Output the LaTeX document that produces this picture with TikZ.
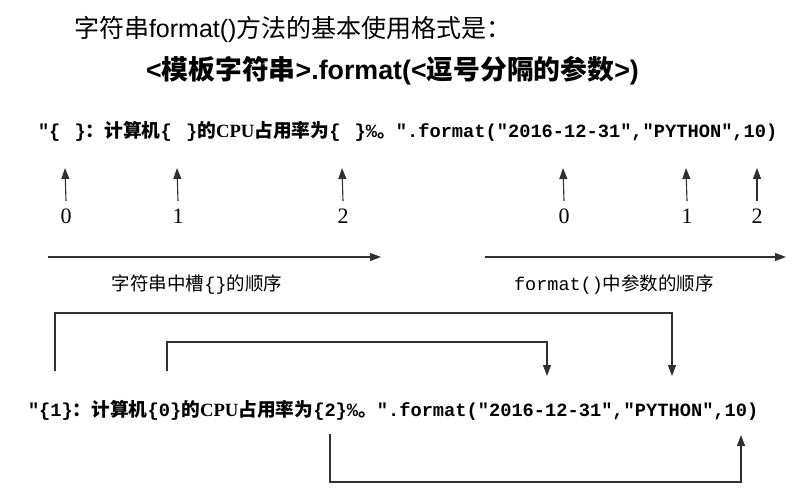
\documentclass[tikz,border=0pt]{standalone}
\usepackage{fontspec}
\usetikzlibrary{arrows.meta}
\newfontfamily\cjk{Noto Sans CJK SC}
\newfontfamily\mono{Liberation Mono}
\newfontfamily\arial{Liberation Sans}
\newfontfamily\tnr{Liberation Serif}
\definecolor{lc}{HTML}{303030}
\newcommand{\slot}{\hspace{3pt}\ }
\begin{document}
\begin{tikzpicture}[x=1pt,y=-1pt,
  txt/.style={inner sep=0pt,outer sep=0pt,anchor=base west},
  num/.style={inner sep=0pt,outer sep=0pt,anchor=base,font=\tnr\fontsize{22}{24}\selectfont},
  conn/.style={draw=lc,line width=1.1pt,-{Triangle[length=11pt,width=8pt]}},
  code/.style={txt,font=\mono\bfseries\fontsize{18.7}{20}\selectfont},
  lab/.style={inner sep=0pt,outer sep=0pt,anchor=base,font=\fontsize{18.5}{20}\selectfont}]
\useasboundingbox (0,0) rectangle (797,494);
% titles
\node[txt,font=\arial\fontsize{25}{28}\selectfont] (t1) at (74,37.5)
  {{\cjk 字符串}format(){\cjk 方法的基本使用格式是：}};
\node[txt,font=\arial\bfseries\fontsize{26.8}{30}\selectfont] (t2) at (146,80)
  {<{\cjk 模板字符串}>.format(<{\cjk 逗号分隔的参数}>)};
% first code line
\node[code] (c1) at (38,137.5)
  {"\{\slot\}{\cjk ：计算机}\{\slot\}{\cjk 的}{\tnr CPU}{\cjk 占用率为}\{\slot\}\%{\cjk 。}".format("2016-12-31","PYTHON",10)};
% index numbers
\node[num] (d0) at (66,223.5) {0};
\node[num] (d1) at (178,223.5) {1};
\node[num] (d2) at (343,223.5) {2};
\node[num] (d3) at (564,223.5) {0};
\node[num] (d4) at (687,223.5) {1};
\node[num] (d5) at (757,223.5) {2};
\foreach \i/\x in {0/65,1/177,2/342,3/563,4/686,5/757}{
  \coordinate (p\i) at (\x,168);
  \draw[conn] (d\i.north) ++(0,-8) coordinate (q\i) -- (p\i);
}
% order arrows and labels
\coordinate (h1a) at (48,257); \coordinate (h1b) at (381,257);
\coordinate (h2a) at (485,257); \coordinate (h2b) at (786,257);
\draw[conn] (h1a) -- (h1b);
\draw[conn] (h2a) -- (h2b);
\node[lab] (l1) at (197,290) {{\cjk 字符串中槽}{\mono\{\}}{\cjk 的顺序}};
\node[lab] (l2) at (614,290) {{\mono format()}{\cjk 中参数的顺序}};
% second code line
\node[code] (c2) at (28,416.5)
  {"\{1\}{\cjk ：计算机}\{0\}{\cjk 的}{\tnr CPU}{\cjk 占用率为}\{2\}\%{\cjk 。}".format("2016-12-31","PYTHON",10)};
% mapping brackets
\coordinate (a1) at (55,371); \coordinate (b1) at (672,376);
\coordinate (a2) at (167,371); \coordinate (b2) at (547,376);
\coordinate (a3) at (330,434); \coordinate (b3) at (741,435);
\draw[conn] (a1) -- (55,313) -| (b1);
\draw[conn] (a2) -- (167,342) -| (b2);
\draw[conn] (a3) -- (330,482) -| (b3);
\end{tikzpicture}
\end{document}
